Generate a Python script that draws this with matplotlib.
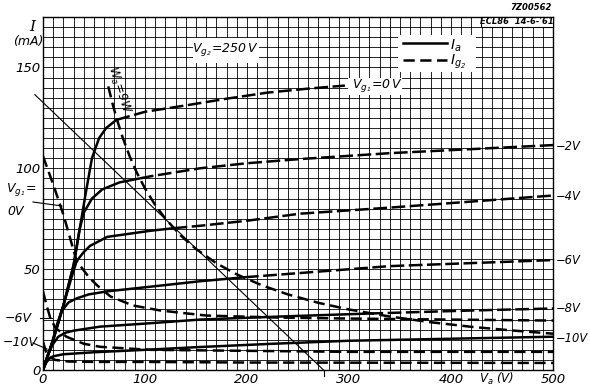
import matplotlib
matplotlib.use("Agg")
import matplotlib.pyplot as plt
from matplotlib.lines import Line2D
from matplotlib.patches import Rectangle
import numpy as np

plt.rcParams['font.family'] = ['DejaVu Sans']
plt.rcParams['mathtext.fontset'] = 'custom'
plt.rcParams['mathtext.rm'] = 'DejaVu Sans:italic'
plt.rcParams['mathtext.it'] = 'DejaVu Sans:italic'
plt.rcParams['mathtext.bf'] = 'DejaVu Sans:bold:italic'

# ---------------- data (Va in V, currents in mA) ----------------
x_ticks = [0, 100, 200, 300, 400, 500]
x_tick_labels = ["0", "100", "200", "300", "400", "500"]
y_ticks = [0, 50, 100, 150]
y_tick_labels = ["0", "50", "100", "150"]

# Anode current Ia, solid part (below 9 W) and dashed part (above 9 W)
ia_0_v = [0, 10, 20, 30, 36, 42, 48, 55, 62, 72]
ia_0_i = [0, 15, 32, 52, 70, 88, 105, 115, 120, 124]
ia_0_v_hi = [72, 100, 144, 180, 220, 260, 296]
ia_0_i_hi = [124, 128, 131.5, 134.5, 137.5, 139.5, 141]

ia_2_v = [0, 10, 20, 30, 36, 40, 48, 58, 75, 95]
ia_2_i = [0, 15, 32, 52, 70, 78, 85, 89.5, 93, 95]
ia_2_v_hi = [95, 105, 154, 200, 250, 340, 420, 500]
ia_2_i_hi = [95, 96, 100, 102.5, 104.5, 107.5, 109.5, 111.5]

ia_4_v = [0, 10, 20, 28, 33, 40, 46, 63, 105, 128]
ia_4_i = [0, 15, 32, 46, 54, 58.5, 61.5, 66, 69, 70.3]
ia_4_v_hi = [128, 154, 200, 252, 340, 420, 500]
ia_4_i_hi = [70.3, 71.5, 74, 77.5, 80.5, 83.5, 86.5]

ia_6_v = [0, 8, 14, 18, 25, 33, 45, 63, 100, 154, 198]
ia_6_i = [0, 12, 23, 29, 33.5, 35.5, 37.5, 39, 41, 44, 46]
ia_6_v_hi = [198, 250, 340, 420, 500]
ia_6_i_hi = [46, 48, 51.5, 53, 54.5]

ia_8_v = [0, 5, 10, 15, 22, 30, 56, 100, 154, 232, 320]
ia_8_i = [0, 8, 13, 16.5, 18.5, 19.5, 21.5, 23, 25, 26.5, 28]
ia_8_v_hi = [320, 373, 420, 500]
ia_8_i_hi = [28, 28.8, 29.5, 30.5]

ia_10_v = [0, 3, 6, 10, 20, 50, 100, 150, 225, 300, 400, 500]
ia_10_i = [0, 3.5, 5.5, 6.8, 7.8, 8.8, 10, 11.3, 13, 14.5, 15.5, 16.5]

# Screen-grid current Ig2
ig2_0_v = [0, 10, 20, 33, 45, 53, 66, 88, 115, 160, 230, 300, 400, 500]
ig2_0_i = [106, 92, 77, 54, 46, 42, 36.5, 32, 29.5, 27, 26, 25.5, 25, 24.5]

ig2_6_v = [0, 3, 7, 12, 23, 40, 56, 105, 200, 300, 500]
ig2_6_i = [39, 33, 26, 21, 16.5, 13, 11.5, 10, 9.5, 9, 9]

ig2_10_v = [0, 3, 6, 12, 25, 50, 100, 200, 500]
ig2_10_i = [14, 9, 6.5, 5, 4.2, 4, 4, 3.7, 3.5]

# Wa = 9 W limit curve
wa_v = [64, 68, 72, 78, 85, 92, 100, 110, 120, 135, 150, 170, 190, 215, 240,
        270, 300, 340, 380, 420, 460, 500]
wa_i = [140.6, 132.4, 125, 115.4, 105.9, 97.8, 90, 81.8, 75, 66.7, 60, 52.9,
        47.4, 41.9, 37.5, 33.3, 30, 26.5, 23.7, 21.4, 19.6, 18]

# Load line
load_v = [-8, 275]
load_i = [136.5, 0]

# ---------------- figure ----------------
W, H = 590, 388
fig = plt.figure(figsize=(W / 100, H / 100), dpi=100)
ax = fig.add_axes([43 / W, 18 / H, 510 / W, 353 / H])
ax.set_xlim(0, 500)
ax.set_ylim(0, 175)

def fx(px):
    return px / W

def fy(py):
    return 1 - py / H

ax.set_xticks(np.arange(0, 501, 10), minor=True)
ax.set_yticks(np.arange(0, 176, 5), minor=True)
ax.set_xticks(x_ticks)
ax.set_xticklabels(x_tick_labels, fontsize=9.5, style='italic')
ax.set_yticks(y_ticks)
ax.set_yticklabels(y_tick_labels, fontsize=9.5, style='italic')
ax.tick_params(which='both', length=0)
ax.tick_params(axis='x', pad=2)
ax.tick_params(axis='y', pad=2)
ax.grid(which='both', color='black', linewidth=0.6)
ax.set_axisbelow(True)
for s in ax.spines.values():
    s.set_linewidth(1.0)

LW = 1.8
long_dash = (5.5, 1.8)
short_dash = (4.5, 2.2)

solid_sets = [(ia_0_v, ia_0_i), (ia_2_v, ia_2_i), (ia_4_v, ia_4_i),
              (ia_6_v, ia_6_i), (ia_8_v, ia_8_i), (ia_10_v, ia_10_i)]
for v, i in solid_sets:
    ax.plot(v, i, color='black', lw=LW, solid_capstyle='butt', zorder=3)

hi_sets = [(ia_0_v_hi, ia_0_i_hi), (ia_2_v_hi, ia_2_i_hi), (ia_4_v_hi, ia_4_i_hi),
           (ia_6_v_hi, ia_6_i_hi), (ia_8_v_hi, ia_8_i_hi)]
for v, i in hi_sets:
    ax.plot(v, i, color='black', lw=LW, dashes=long_dash, zorder=3, clip_on=False)

for v, i in [(ig2_0_v, ig2_0_i), (ig2_6_v, ig2_6_i), (ig2_10_v, ig2_10_i)]:
    ax.plot(v, i, color='black', lw=LW, dashes=short_dash, zorder=3)

ax.plot(wa_v, wa_i, color='black', lw=LW, dashes=short_dash, zorder=3)

ax.plot(load_v, load_i, color='black', lw=0.8, zorder=3, clip_on=False)
ax.plot([load_v[1], load_v[1]], [0, -3], color='black', lw=0.8, clip_on=False)

# ---------------- white boxes over the grid ----------------
def wbox(x0, y0, x1, y1, edge=False):
    r = Rectangle((fx(x0), fy(y1)), fx(x1) - fx(x0), fy(y0) - fy(y1),
                  transform=fig.transFigure, facecolor='white',
                  edgecolor='black' if edge else 'none', lw=0.8, zorder=4)
    fig.add_artist(r)

wbox(193, 38, 259, 63)
wbox(348, 78, 402, 95)
wbox(398, 35, 476, 72)
wbox(481, 17, 553, 27, edge=True)

# ---------------- texts ----------------
it = dict(style='italic', zorder=5)
fig.text(fx(226), fy(50), r"$V_{g_2}\!=\!250\,V$", fontsize=9, ha='center', va='center', **it)
fig.text(fx(352), fy(86), r"$V_{g_1}\!=\!0\,V$", fontsize=9, ha='left', va='center', **it)

fig.add_artist(Line2D([fx(403), fx(447)], [fy(43), fy(43)], color='black', lw=LW,
                      transform=fig.transFigure, zorder=5))
fig.add_artist(Line2D([fx(403), fx(447)], [fy(60), fy(60)], color='black', lw=LW,
                      dashes=short_dash, transform=fig.transFigure, zorder=5))
fig.text(fx(450), fy(46), r"$I_a$", fontsize=10, ha='left', va='center', **it)
fig.text(fx(450), fy(62), r"$I_{g_2}$", fontsize=10, ha='left', va='center', **it)

fig.text(fx(517), fy(22), "ECL86  14-6-'61", fontsize=6, ha='center', va='center',
         weight='bold', **it)
fig.text(fx(552), fy(8), "7Z00562", fontsize=6, ha='right', va='center',
         weight='bold', **it)

fig.text(fx(32), fy(27), "I", fontsize=11, ha='center', va='center',
         family='DejaVu Serif', style='italic')
fig.text(fx(28), fy(42), "(mA)", fontsize=9, ha='center', va='center', style='italic')

fig.text(fx(119), fy(90), r"$W_a\!=\!9W$", fontsize=8.5, ha='center', va='center',
         rotation=-72, **it)

for lbl, py in [("\u22122V", 147), ("\u22124V", 197), ("\u22126V", 261),
                ("\u22128V", 309), ("\u221210V", 338)]:
    fig.text(fx(556), fy(py), lbl, fontsize=8.3, ha='left', va='center', **it)

fig.text(fx(6), fy(189), r"$V_{g_1}\!=$", fontsize=9, ha='left', va='center', **it)
fig.text(fx(7), fy(212), "0V", fontsize=9, ha='left', va='center', **it)
fig.add_artist(Line2D([fx(33), fx(62)], [fy(202), fy(206)], color='black', lw=0.8,
                      transform=fig.transFigure))
fig.text(fx(5), fy(318), "\u22126V", fontsize=9, ha='left', va='center', **it)
fig.add_artist(Line2D([fx(40), fx(52)], [fy(318), fy(318)], color='black', lw=0.8,
                      transform=fig.transFigure))
fig.text(fx(3), fy(342), "\u221210V", fontsize=9, ha='left', va='center', **it)
fig.add_artist(Line2D([fx(33), fx(47)], [fy(343), fy(349)], color='black', lw=0.8,
                      transform=fig.transFigure))

fig.text(fx(497), fy(379), r"$V_a$ (V)", fontsize=8.5, ha='center', va='center', **it)

fig.savefig("out.png", dpi=100)
